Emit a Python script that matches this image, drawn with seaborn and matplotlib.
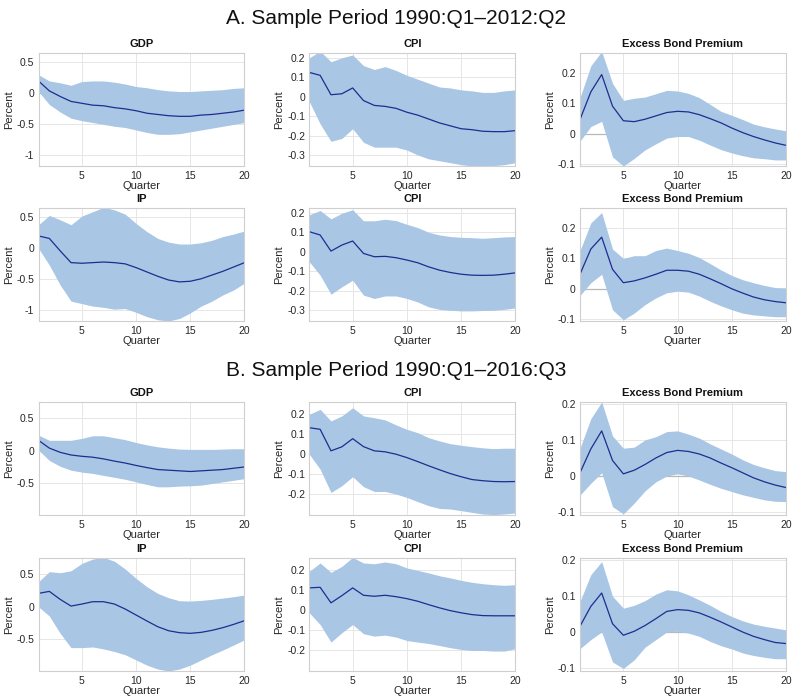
import numpy as np
import pandas as pd
import matplotlib
matplotlib.use("Agg")
import matplotlib.pyplot as plt
import seaborn as sns

quarters = list(range(1, 21))

# ---- Panel A: sample 1990:Q1-2012:Q2 ----
a_gdp_med = [0.20, 0.04, -0.05, -0.13, -0.16, -0.19, -0.20, -0.23, -0.25, -0.28,
             -0.32, -0.34, -0.36, -0.37, -0.37, -0.35, -0.34, -0.32, -0.30, -0.27]
a_gdp_hi = [0.30, 0.20, 0.17, 0.13, 0.19, 0.20, 0.20, 0.18, 0.15, 0.11,
            0.09, 0.06, 0.04, 0.03, 0.03, 0.04, 0.05, 0.06, 0.08, 0.09]
a_gdp_lo = [0.03, -0.18, -0.30, -0.40, -0.44, -0.47, -0.50, -0.53, -0.55, -0.59,
            -0.63, -0.66, -0.66, -0.65, -0.62, -0.59, -0.56, -0.53, -0.50, -0.47]

a_cpi1_med = [0.125, 0.11, 0.01, 0.015, 0.045, -0.02, -0.045, -0.05, -0.06, -0.08,
              -0.095, -0.115, -0.135, -0.15, -0.165, -0.17, -0.178, -0.18, -0.18, -0.175]
a_cpi1_hi = [0.20, 0.235, 0.18, 0.20, 0.215, 0.16, 0.14, 0.155, 0.135, 0.11,
             0.09, 0.07, 0.05, 0.045, 0.035, 0.03, 0.022, 0.022, 0.03, 0.035]
a_cpi1_lo = [-0.025, -0.14, -0.23, -0.215, -0.165, -0.235, -0.26, -0.26, -0.26, -0.275,
             -0.30, -0.32, -0.33, -0.34, -0.35, -0.357, -0.36, -0.355, -0.35, -0.34]

a_ebp1_med = [0.047, 0.138, 0.195, 0.091, 0.043, 0.040, 0.048, 0.059, 0.070, 0.074,
              0.072, 0.063, 0.050, 0.036, 0.019, 0.004, -0.009, -0.020, -0.030, -0.038]
a_ebp1_hi = [0.119, 0.224, 0.271, 0.166, 0.110, 0.117, 0.121, 0.132, 0.143, 0.141,
             0.133, 0.119, 0.097, 0.074, 0.061, 0.047, 0.032, 0.023, 0.016, 0.010]
a_ebp1_lo = [-0.024, 0.024, 0.041, -0.076, -0.106, -0.081, -0.053, -0.033, -0.014, -0.009,
             -0.009, -0.021, -0.037, -0.052, -0.063, -0.072, -0.079, -0.082, -0.086, -0.086]

a_ip_med = [0.20, 0.16, -0.04, -0.23, -0.24, -0.23, -0.22, -0.23, -0.25, -0.31,
            -0.38, -0.45, -0.51, -0.54, -0.53, -0.49, -0.43, -0.37, -0.30, -0.23]
a_ip_hi = [0.38, 0.53, 0.46, 0.38, 0.52, 0.59, 0.66, 0.62, 0.55, 0.40,
           0.27, 0.16, 0.10, 0.07, 0.07, 0.09, 0.13, 0.19, 0.23, 0.28]
a_ip_lo = [0.00, -0.27, -0.59, -0.85, -0.89, -0.93, -0.95, -0.98, -0.97, -1.03,
           -1.10, -1.15, -1.17, -1.13, -1.04, -0.93, -0.85, -0.75, -0.67, -0.56]

a_cpi2_med = [0.103, 0.086, 0.003, 0.034, 0.055, -0.009, -0.026, -0.024, -0.031, -0.043,
              -0.057, -0.078, -0.095, -0.107, -0.116, -0.121, -0.122, -0.121, -0.116, -0.109]
a_cpi2_hi = [0.190, 0.212, 0.169, 0.198, 0.216, 0.159, 0.159, 0.167, 0.160, 0.141,
             0.124, 0.100, 0.086, 0.078, 0.074, 0.072, 0.069, 0.072, 0.076, 0.078]
a_cpi2_lo = [-0.052, -0.121, -0.219, -0.181, -0.147, -0.224, -0.241, -0.228, -0.228, -0.241,
             -0.259, -0.284, -0.297, -0.302, -0.305, -0.305, -0.303, -0.302, -0.297, -0.290]

a_ebp2_med = [0.048, 0.131, 0.170, 0.064, 0.020, 0.026, 0.036, 0.048, 0.061, 0.061,
              0.058, 0.048, 0.033, 0.017, 0.000, -0.014, -0.027, -0.036, -0.042, -0.046]
a_ebp2_hi = [0.126, 0.217, 0.251, 0.131, 0.100, 0.109, 0.109, 0.126, 0.134, 0.126,
             0.117, 0.103, 0.083, 0.062, 0.044, 0.030, 0.020, 0.011, 0.004, 0.003]
a_ebp2_lo = [-0.022, 0.020, 0.048, -0.069, -0.102, -0.080, -0.052, -0.030, -0.013, -0.008,
             -0.011, -0.024, -0.041, -0.056, -0.069, -0.080, -0.086, -0.089, -0.092, -0.092]

# ---- Panel B: sample 1990:Q1-2016:Q3 ----
b_gdp_med = [0.16, 0.04, -0.025, -0.066, -0.086, -0.10, -0.126, -0.16, -0.19, -0.227,
             -0.26, -0.29, -0.30, -0.31, -0.32, -0.31, -0.30, -0.29, -0.27, -0.25]
b_gdp_hi = [0.24, 0.16, 0.16, 0.16, 0.19, 0.23, 0.23, 0.20, 0.17, 0.126,
            0.09, 0.06, 0.04, 0.025, 0.02, 0.02, 0.02, 0.025, 0.03, 0.03]
b_gdp_lo = [0.01, -0.15, -0.24, -0.30, -0.33, -0.35, -0.38, -0.41, -0.44, -0.48,
            -0.52, -0.556, -0.556, -0.545, -0.54, -0.53, -0.505, -0.48, -0.455, -0.43]

b_cpi1_med = [0.133, 0.125, 0.017, 0.037, 0.078, 0.038, 0.017, 0.012, 0.000, -0.017,
              -0.037, -0.058, -0.078, -0.097, -0.113, -0.127, -0.133, -0.137, -0.138, -0.137]
b_cpi1_hi = [0.200, 0.225, 0.167, 0.192, 0.233, 0.192, 0.183, 0.172, 0.147, 0.125,
             0.108, 0.083, 0.067, 0.053, 0.045, 0.038, 0.032, 0.028, 0.030, 0.030]
b_cpi1_lo = [0.000, -0.075, -0.192, -0.158, -0.113, -0.163, -0.187, -0.187, -0.200, -0.217,
             -0.238, -0.258, -0.272, -0.275, -0.283, -0.292, -0.300, -0.303, -0.300, -0.295]

b_ebp1_med = [0.009, 0.075, 0.125, 0.043, 0.006, 0.016, 0.032, 0.050, 0.065, 0.071,
              0.068, 0.061, 0.050, 0.036, 0.023, 0.009, -0.005, -0.016, -0.025, -0.032]
b_ebp1_hi = [0.077, 0.159, 0.205, 0.111, 0.077, 0.080, 0.100, 0.109, 0.123, 0.125,
             0.116, 0.105, 0.089, 0.075, 0.061, 0.045, 0.032, 0.023, 0.015, 0.012]
b_ebp1_lo = [-0.053, -0.020, 0.009, -0.085, -0.105, -0.075, -0.041, -0.016, 0.000, 0.006,
             0.000, -0.011, -0.023, -0.034, -0.043, -0.052, -0.059, -0.066, -0.070, -0.071]

b_ip_med = [0.205, 0.236, 0.113, 0.010, 0.041, 0.077, 0.077, 0.041, -0.036, -0.128,
            -0.22, -0.308, -0.37, -0.40, -0.41, -0.395, -0.364, -0.323, -0.272, -0.215]
b_ip_hi = [0.385, 0.54, 0.523, 0.554, 0.667, 0.733, 0.76, 0.70, 0.58, 0.436,
           0.308, 0.205, 0.138, 0.092, 0.087, 0.097, 0.113, 0.133, 0.154, 0.18]
b_ip_lo = [0.00, -0.144, -0.41, -0.63, -0.63, -0.62, -0.65, -0.69, -0.74, -0.82,
           -0.90, -0.96, -0.99, -0.96, -0.90, -0.82, -0.74, -0.667, -0.59, -0.51]

b_cpi2_med = [0.112, 0.115, 0.037, 0.073, 0.112, 0.075, 0.070, 0.075, 0.068, 0.058,
              0.045, 0.028, 0.012, -0.002, -0.013, -0.022, -0.027, -0.028, -0.028, -0.028]
b_cpi2_hi = [0.195, 0.237, 0.190, 0.220, 0.265, 0.237, 0.233, 0.242, 0.233, 0.212,
             0.200, 0.187, 0.173, 0.162, 0.150, 0.140, 0.133, 0.128, 0.125, 0.128]
b_cpi2_lo = [-0.013, -0.072, -0.160, -0.113, -0.072, -0.118, -0.130, -0.125, -0.135, -0.152,
             -0.160, -0.167, -0.177, -0.188, -0.197, -0.202, -0.202, -0.205, -0.205, -0.193]

b_ebp2_med = [0.016, 0.071, 0.108, 0.023, -0.009, 0.002, 0.018, 0.037, 0.057, 0.062,
              0.060, 0.053, 0.041, 0.028, 0.014, 0.000, -0.012, -0.021, -0.029, -0.032]
b_ebp2_hi = [0.085, 0.159, 0.195, 0.099, 0.066, 0.074, 0.087, 0.105, 0.117, 0.114,
             0.103, 0.089, 0.074, 0.057, 0.043, 0.031, 0.022, 0.016, 0.011, 0.006]
b_ebp2_lo = [-0.046, -0.021, 0.000, -0.083, -0.101, -0.077, -0.042, -0.021, 0.000, 0.002,
             -0.003, -0.012, -0.026, -0.038, -0.047, -0.058, -0.065, -0.070, -0.074, -0.074]

section_titles = ["A. Sample Period 1990:Q1\u20132012:Q2",
                  "B. Sample Period 1990:Q1\u20132016:Q3"]

panels = [
    # (row, col, title, median, lower, upper, ylim, yticks)
    (0, 0, "GDP", a_gdp_med, a_gdp_lo, a_gdp_hi, (-1.17, 0.65), [-1, -0.5, 0, 0.5]),
    (0, 1, "CPI", a_cpi1_med, a_cpi1_lo, a_cpi1_hi, (-0.357, 0.225), [-0.3, -0.2, -0.1, 0, 0.1, 0.2]),
    (0, 2, "Excess Bond Premium", a_ebp1_med, a_ebp1_lo, a_ebp1_hi, (-0.106, 0.266), [-0.1, 0, 0.1, 0.2]),
    (1, 0, "IP", a_ip_med, a_ip_lo, a_ip_hi, (-1.17, 0.65), [-1, -0.5, 0, 0.5]),
    (1, 1, "CPI", a_cpi2_med, a_cpi2_lo, a_cpi2_hi, (-0.357, 0.225), [-0.3, -0.2, -0.1, 0, 0.1, 0.2]),
    (1, 2, "Excess Bond Premium", a_ebp2_med, a_ebp2_lo, a_ebp2_hi, (-0.106, 0.266), [-0.1, 0, 0.1, 0.2]),
    (2, 0, "GDP", b_gdp_med, b_gdp_lo, b_gdp_hi, (-0.99, 0.75), [-0.5, 0, 0.5]),
    (2, 1, "CPI", b_cpi1_med, b_cpi1_lo, b_cpi1_hi, (-0.305, 0.262), [-0.2, -0.1, 0, 0.1, 0.2]),
    (2, 2, "Excess Bond Premium", b_ebp1_med, b_ebp1_lo, b_ebp1_hi, (-0.108, 0.205), [-0.1, 0, 0.1, 0.2]),
    (3, 0, "IP", b_ip_med, b_ip_lo, b_ip_hi, (-0.99, 0.75), [-0.5, 0, 0.5]),
    (3, 1, "CPI", b_cpi2_med, b_cpi2_lo, b_cpi2_hi, (-0.305, 0.262), [-0.2, -0.1, 0, 0.1, 0.2]),
    (3, 2, "Excess Bond Premium", b_ebp2_med, b_ebp2_lo, b_ebp2_hi, (-0.108, 0.205), [-0.1, 0, 0.1, 0.2]),
]

sns.set_theme(style="whitegrid")
plt.rcParams["font.family"] = ["Liberation Sans", "DejaVu Sans"]

W, H = 793, 699
fig = plt.figure(figsize=(W / 100, H / 100), dpi=100)

col_left = [38.5, 309.3, 580.0]
row_top = [53, 208, 402, 558]
ax_w, ax_h = 206, 113

band_color = "#a9c6e4"
line_color = "#1f2d8f"
text_color = "#262626"

for row, col, title, med, lo, hi, ylim, yticks in panels:
    left = col_left[col] / W
    bottom = 1 - (row_top[row] + ax_h) / H
    ax = fig.add_axes([left, bottom, ax_w / W, ax_h / H])
    df = pd.DataFrame({"Quarter": quarters, "median": med, "lo": lo, "hi": hi})
    ax.axhline(0, color="#b8b8b8", lw=0.9, zorder=1)
    ax.fill_between(df["Quarter"], df["lo"], df["hi"], color=band_color, lw=0, zorder=2)
    sns.lineplot(data=df, x="Quarter", y="median", ax=ax, color=line_color,
                 lw=0.9, zorder=3)
    ax.set_xlim(1, 20)
    ax.set_ylim(*ylim)
    ax.set_xticks([5, 10, 15, 20])
    ax.set_yticks(yticks)
    ax.set_yticklabels([f"{v:g}" for v in yticks])
    ax.tick_params(axis="x", length=0, labelsize=7.5, colors=text_color, pad=3.5)
    ax.tick_params(axis="y", length=0, labelsize=7.5, colors=text_color, pad=3)
    ax.grid(True, color="#e6e6e6", lw=0.7)
    for s in ax.spines.values():
        s.set_color("#cfcfcf")
        s.set_linewidth(0.8)
        s.set_zorder(4)
    ax.set_title(title, fontsize=8, fontweight="bold", color="#111111", pad=4)
    ax.set_xlabel("Quarter", fontsize=8, color=text_color, labelpad=0)
    ax.set_ylabel("Percent", fontsize=8, color=text_color, labelpad=2)

fig.text(0.5, 1 - 18 / H, section_titles[0], ha="center", va="center",
         fontsize=15, color="#111111")
fig.text(0.5, 1 - 370 / H, section_titles[1], ha="center", va="center",
         fontsize=15, color="#111111")

fig.savefig("out.png", dpi=100, facecolor="white")
